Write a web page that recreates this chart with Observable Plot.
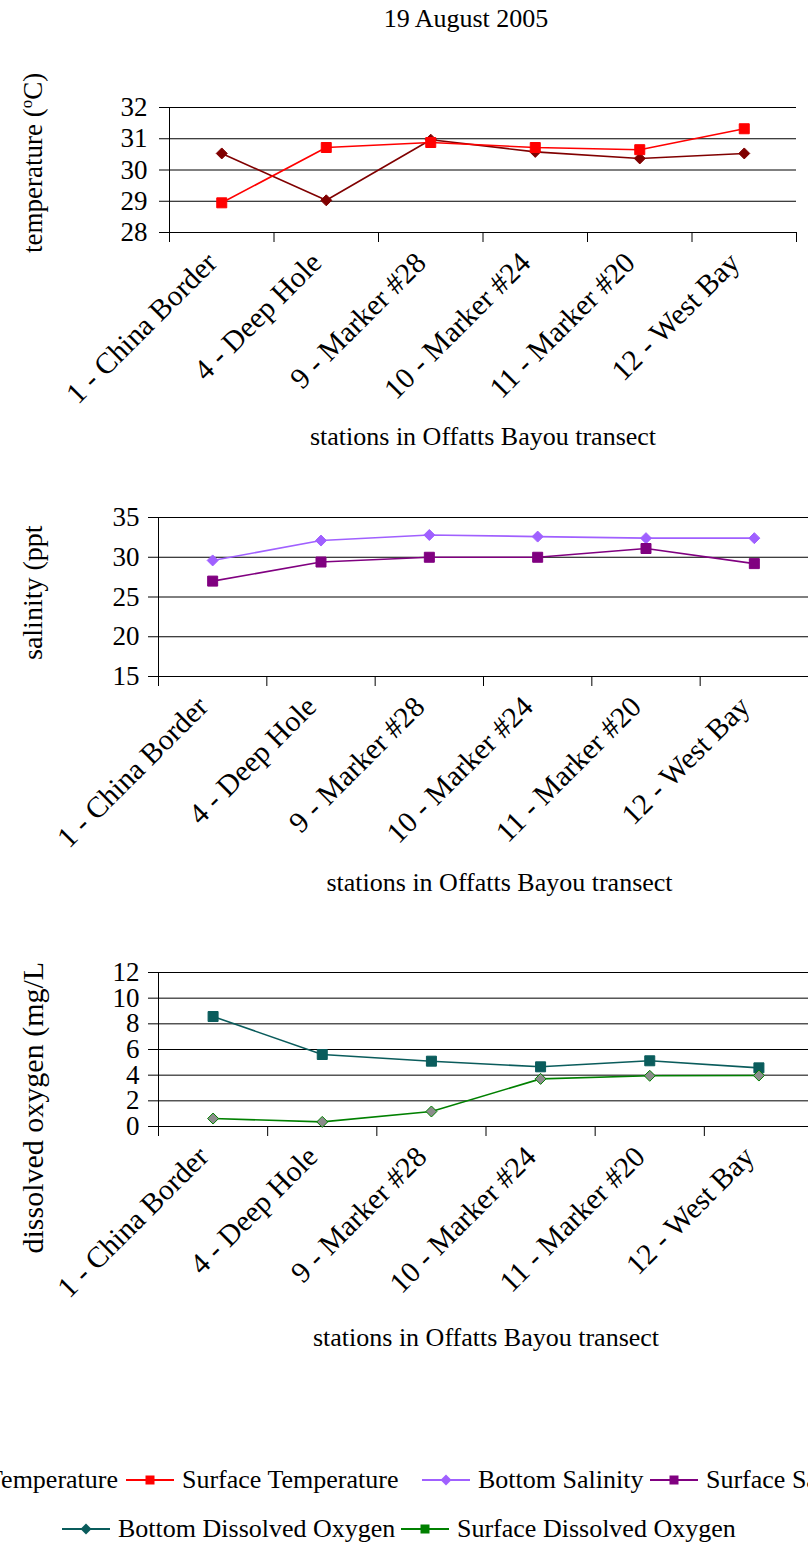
<!DOCTYPE html>
<html>
<head>
<meta charset="utf-8">
<script src="https://cdn.jsdelivr.net/npm/d3@7"></script>
<script src="https://cdn.jsdelivr.net/npm/@observablehq/plot@0.6"></script>
<style>
  html, body { margin: 0; padding: 0; background: #fff; }
  #fig { position: relative; width: 808px; height: 1549px; overflow: hidden;
         font-family: "Liberation Serif", "Times New Roman", serif; color: #000; background: #fff; }
  #fig svg { position: absolute; left: 0; }
  .title { position: absolute; left: 0; width: 932px; top: 6px; text-align: center;
           font-size: 26px; line-height: 26px; white-space: nowrap; }
  .item { position: absolute; display: flex; align-items: center; height: 30px;
          font-size: 26px; line-height: 30px; white-space: nowrap; }
  .item svg { position: static !important; margin-right: 8px; }
</style>
</head>
<body>
<div id="fig"></div>
<script>
// Sampling stations along the transect
const stations = ["1 - China Border", "4 - Deep Hole", "9 - Marker #28", "10 - Marker #24", "11 - Marker #20", "12 - West Bay"];

// Temperature (°C)
const bottomTemperature  = [30.53, 29.03, 30.97, 30.58, 30.37, 30.53];
const surfaceTemperature = [28.95, 30.72, 30.88, 30.72, 30.65, 31.32];

// Salinity (ppt)
const bottomSalinity  = [29.6, 32.1, 32.8, 32.6, 32.4, 32.4];
const surfaceSalinity = [27.0, 29.4, 30.0, 30.0, 31.1, 29.2];

// Dissolved oxygen (mg/L)
const bottomOxygen  = [8.57, 5.61, 5.09, 4.65, 5.12, 4.57];
const surfaceOxygen = [0.62, 0.36, 1.17, 3.71, 3.95, 3.97];

// Axis ticks
const temperatureTicks = [28, 29, 30, 31, 32];
const salinityTicks = [15, 20, 25, 30, 35];
const oxygenTicks = [0, 2, 4, 6, 8, 10, 12];

const xTitle = "stations in Offatts Bayou transect";

// Marker shapes: r is the half-extent of the shape
const square = {draw(ctx, size) { const r = Math.sqrt(size / Math.PI); ctx.rect(-r, -r, 2 * r, 2 * r); }};
const diamond = {draw(ctx, size) { const r = Math.sqrt(size / Math.PI);
  ctx.moveTo(0, -r); ctx.lineTo(r, 0); ctx.lineTo(0, r); ctx.lineTo(-r, 0); ctx.closePath(); }};

const fig = document.getElementById("fig");

function addPanel(cfg) {
  const n = stations.length;
  const bounds = d3.range(n + 1).map(i => i - 0.5);
  const marginBottom = cfg.height - cfg.marginTop - cfg.frameHeight;
  const marks = [
    Plot.gridY(cfg.ticks, {stroke: "#000", strokeOpacity: 1, strokeWidth: 1}),
    Plot.ruleX([-0.5], {stroke: "#000"}),
    Plot.ruleX(bounds, {stroke: "#000", insetTop: cfg.frameHeight, insetBottom: -10}),
    Plot.axisY(cfg.ticks, {tickSize: 10, tickPadding: cfg.tickPadding, fontSize: 27, stroke: "#000", fill: "#000"}),
    Plot.text(stations, {x: (d, i) => i, text: d => d, frameAnchor: "bottom", rotate: -45,
      textAnchor: "end", lineAnchor: "bottom", dx: -3, dy: 32, fontSize: 29.5, fill: "#000"}),
    Plot.text([xTitle], {frameAnchor: "bottom", dx: cfg.titleDx, dy: cfg.titleDy, fontSize: 26, fill: "#000"}),
    Plot.text([cfg.yLabel], {frameAnchor: "left", rotate: -90, textAnchor: "start",
      dx: 33 - cfg.marginLeft, dy: cfg.yLabelDy, fontSize: cfg.yLabelSize, fill: "#000"})
  ];
  for (const s of cfg.series) {
    marks.push(Plot.lineY(s.values, {x: (d, i) => i, y: d => d, stroke: s.color, strokeWidth: 1.6}));
    marks.push(Plot.dot(s.values, {x: (d, i) => i, y: d => d, symbol: s.symbol, r: s.r,
      fill: s.fill || s.color, stroke: s.stroke || s.color, strokeWidth: 1}));
  }
  const svg = Plot.plot({
    width: cfg.width,
    height: cfg.height,
    marginLeft: cfg.marginLeft,
    marginRight: cfg.marginRight,
    marginTop: cfg.marginTop,
    marginBottom,
    x: {type: "linear", domain: [-0.5, n - 0.5], axis: null},
    y: {domain: cfg.domain, axis: null},
    style: {fontFamily: "Liberation Serif, Times New Roman, serif", fontSize: "26px",
            color: "#000", background: "transparent", maxWidth: "none", overflow: "hidden"},
    marks
  });
  svg.style.top = cfg.top + "px";
  fig.appendChild(svg);
  return svg;
}

// Chart title
const title = document.createElement("div");
title.className = "title";
title.textContent = "19 August 2005";
fig.appendChild(title);

// Temperature panel
const tempSvg = addPanel({
  top: 60, width: 808, height: 400, marginLeft: 169, marginRight: 12, marginTop: 47, frameHeight: 125,
  domain: [28, 32], ticks: temperatureTicks, tickPadding: 12,
  yLabel: "temperature (oC)", yLabelDy: 83, yLabelSize: 27, titleDx: 0, titleDy: 212,
  series: [
    {values: bottomTemperature, color: "#800000", symbol: diamond, r: 5.5},
    {values: surfaceTemperature, color: "#ff0000", symbol: square, r: 5}
  ]
});
// superscript "o" in the temperature label
tempSvg.querySelectorAll("text").forEach(t => {
  if (t.textContent === "temperature (oC)") {
    t.textContent = "";
    const ns = "http://www.w3.org/2000/svg";
    const a = document.createElementNS(ns, "tspan"); a.textContent = "temperature (";
    const b = document.createElementNS(ns, "tspan"); b.textContent = "o";
    b.setAttribute("font-size", "17"); b.setAttribute("dy", "-10");
    const c = document.createElementNS(ns, "tspan"); c.textContent = "C)"; c.setAttribute("dy", "10");
    t.append(a, b, c);
  }
});

// Salinity panel
addPanel({
  top: 470, width: 808, height: 440, marginLeft: 158, marginRight: 0, marginTop: 47, frameHeight: 159,
  domain: [15, 35], ticks: salinityTicks, tickPadding: 9,
  yLabel: "salinity (ppt", yLabelDy: 63, yLabelSize: 28, titleDx: 16, titleDy: 214,
  series: [
    {values: bottomSalinity, color: "#a060ff", symbol: diamond, r: 5.5},
    {values: surfaceSalinity, color: "#800080", symbol: square, r: 5}
  ]
});

// Dissolved oxygen panel
addPanel({
  top: 925, width: 816, height: 440, marginLeft: 158, marginRight: 3, marginTop: 47, frameHeight: 154,
  domain: [0, 12], ticks: oxygenTicks, tickPadding: 9,
  yLabel: "dissolved oxygen (mg/L", yLabelDy: 204, yLabelSize: 30, titleDx: 0, titleDy: 219,
  series: [
    {values: bottomOxygen, color: "#0a5c5c", symbol: square, r: 5},
    {values: surfaceOxygen, color: "#008000", symbol: diamond, r: 5.5, fill: "#8c8c8c", stroke: "#008000"}
  ]
});

// Legend
const legendItems = [
  {label: "Bottom Temperature", color: "#800000", shape: "diamond", left: -153, top: 1465},
  {label: "Surface Temperature", color: "#ff0000", shape: "square", left: 126, top: 1465},
  {label: "Bottom Salinity", color: "#a060ff", shape: "diamond", left: 422, top: 1465},
  {label: "Surface Salinity", color: "#800080", shape: "square", left: 650, top: 1465},
  {label: "Bottom Dissolved Oxygen", color: "#0a5c5c", shape: "diamond", left: 62, top: 1514},
  {label: "Surface Dissolved Oxygen", color: "#008000", shape: "square", left: 401, top: 1514}
];
for (const it of legendItems) {
  const el = document.createElement("div");
  el.className = "item";
  el.style.left = it.left + "px";
  el.style.top = it.top + "px";
  const marker = it.shape === "square"
    ? `<rect x="19.5" y="10.5" width="9" height="9" fill="${it.color}"/>`
    : `<path d="M24,9.5L29.5,15L24,20.5L18.5,15Z" fill="${it.color}"/>`;
  el.innerHTML = `<svg width="48" height="30" viewBox="0 0 48 30"><line x1="0" x2="48" y1="15" y2="15" stroke="${it.color}" stroke-width="2"/>${marker}</svg><span>${it.label}</span>`;
  fig.appendChild(el);
}
</script>
</body>
</html>
